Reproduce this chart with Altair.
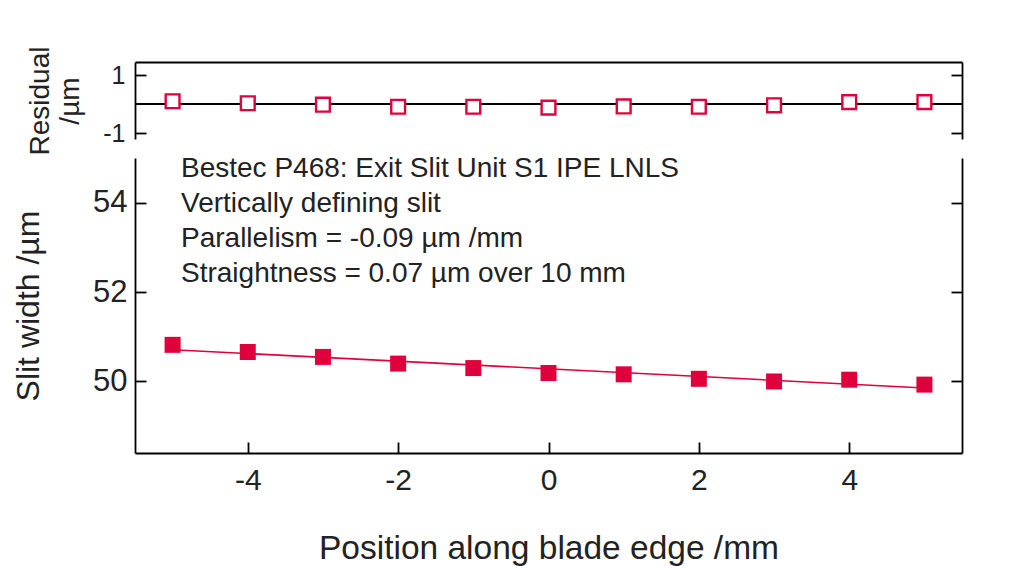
import altair as alt
import pandas as pd

# ---- data ----
positions = [-5, -4, -3, -2, -1, 0, 1, 2, 3, 4, 5]
slit_width = [50.82, 50.66, 50.55, 50.40, 50.30, 50.19, 50.16, 50.06, 50.00, 50.04, 49.93]
residual = [0.10, 0.03, -0.02, -0.09, -0.09, -0.12, -0.08, -0.09, -0.04, 0.07, 0.07]

x_ticks = [-4, -2, 0, 2, 4]
main_y_ticks = [50, 52, 54]
res_y_ticks = [-1, 1]

annotation_lines = [
    "Bestec P468: Exit Slit Unit S1 IPE LNLS",
    "Vertically defining slit",
    "Parallelism = -0.09 µm /mm",
    "Straightness = 0.07 µm over 10 mm",
]

RED = "#E0003C"
FONT = "Liberation Sans"
TXT = "#222222"

df = pd.DataFrame({"pos": positions, "width": slit_width, "res": residual})
ann = pd.DataFrame({"t": ["\n".join(annotation_lines)]})

W = 827
xscale = alt.Scale(domain=[-5.5, 5.5], nice=False, zero=False)
main_yscale = alt.Scale(domain=[48.4, 55], nice=False, zero=False)
res_yscale = alt.Scale(domain=[-1.2, 1.45], nice=False, zero=False)

inward = {"expr": "-11"}
plain = "'' + datum.value"
common = dict(domainColor="black", domainWidth=1.8, tickColor="black", tickWidth=1.8,
              grid=False, labelFont=FONT, titleFont=FONT, labelColor=TXT, titleColor=TXT,
              titleFontWeight="normal")

# ---------- main panel ----------
x_main_axis = alt.Axis(values=x_ticks, orient="bottom", tickSize=inward, labelPadding=23,
                       labelFontSize=30, labelExpr=plain, titleFontSize=33.5, titlePadding=37,
                       title="Position along blade edge /mm", **common)
y_main_left = alt.Axis(values=main_y_ticks, orient="left", tickSize=inward, labelPadding=19,
                       labelFontSize=31, labelExpr=plain, titleFontSize=32, titlePadding=47,
                       title="Slit width /µm", **common)
y_main_right = alt.Axis(values=main_y_ticks, orient="right", tickSize=inward, labels=False,
                        title=None, **common)

base = alt.Chart(df)

points = base.mark_square(size=256, color=RED, opacity=1).encode(
    x=alt.X("pos:Q", scale=xscale, axis=x_main_axis),
    y=alt.Y("width:Q", scale=main_yscale, axis=y_main_left),
)
fit = base.transform_regression("pos", "width", extent=[-5, 5]).mark_line(
    color=RED, strokeWidth=1.6
).encode(
    x=alt.X("pos:Q", scale=xscale, axis=x_main_axis),
    y=alt.Y("width:Q", scale=main_yscale, axis=y_main_right),
)
text = alt.Chart(ann).mark_text(
    align="left", baseline="top", font=FONT, fontSize=28, lineHeight=35,
    lineBreak="\n", color=TXT, x=46, y=-3
).encode(text="t:N")

main = alt.layer(fit, points, text).resolve_axis(y="independent").properties(width=W, height=295)

# ---------- residual panel ----------
x_res_axis = alt.Axis(orient="top", labels=False, ticks=False, title=None, **common)
y_res_left = alt.Axis(values=res_y_ticks, orient="left", tickSize=inward, labelPadding=21,
                      labelFontSize=25, labelExpr=plain, titleFontSize=28, titleLineHeight=30,
                      titlePadding=18, title=["Residual", "/µm"], **common)
y_res_right = alt.Axis(values=res_y_ticks, orient="right", tickSize=inward, labels=False,
                       title=None, **common)

zero_rule = base.mark_rule(color="black", strokeWidth=1.8).encode(
    y=alt.Y(datum=0, scale=res_yscale, axis=y_res_right)
)
res_pts = base.mark_square(size=190, fill="white", stroke=RED, strokeWidth=2.4,
                           filled=True, opacity=1).encode(
    x=alt.X("pos:Q", scale=xscale, axis=x_res_axis),
    y=alt.Y("res:Q", scale=res_yscale, axis=y_res_left),
)
resid = alt.layer(zero_rule, res_pts).resolve_axis(y="independent").properties(width=W, height=77)

chart = alt.vconcat(resid, main, spacing=19, bounds="flush").properties(
    padding={"left": 4, "top": 38, "right": 5, "bottom": 5},
    background="white",
).configure_view(strokeWidth=0, stroke="transparent")

chart.save("out.html", embed_options={"renderer": "svg", "actions": False})
